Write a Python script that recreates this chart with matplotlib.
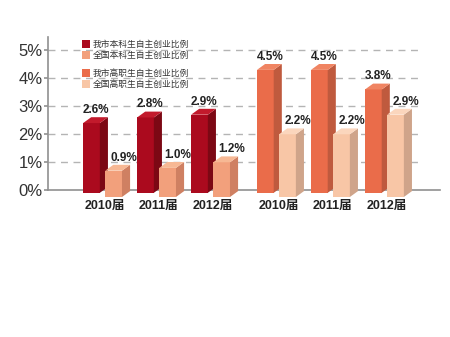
import numpy as np
import matplotlib.pyplot as plt
from matplotlib.patches import Polygon, Rectangle

plt.rcParams['font.family'] = ['Liberation Sans', 'Noto Sans CJK SC', 'DejaVu Sans']

years = ['2010届', '2011届', '2012届']
city_ug = [2.6, 2.8, 2.9]      # 我市本科生自主创业比例
nat_ug = [0.9, 1.0, 1.2]       # 全国本科生自主创业比例
city_voc = [4.5, 4.5, 3.8]     # 我市高职生自主创业比例
nat_voc = [2.2, 2.2, 2.9]      # 全国高职生自主创业比例
yticks = [0, 1, 2, 3, 4, 5]
legend_labels = ['我市本科生自主创业比例', '全国本科生自主创业比例',
                 '我市高职生自主创业比例', '全国高职生自主创业比例']

# colours: front, side, top
c_dark = ('#ab0a1e', '#7c0814', '#c21a2c')
c_salmon = ('#f2a07c', '#cf8062', '#f7b894')
c_orange = ('#ea6c4a', '#bf5a3e', '#f08462')
c_peach = ('#f8c6a6', '#cfa48a', '#fbd6bd')

W = 0.31     # bar width
DX = 0.15    # depth in x
DY = 0.21    # depth in y
PAIR = 0.41  # offset of the second bar in a pair


def bar3d(ax, xs, vals, colors, bottom, z, lab_off):
    front, side, top = colors
    ax.bar(xs, np.array(vals) - DY - bottom, width=W, bottom=bottom,
           align='edge', color=front, zorder=z, clip_on=False, linewidth=0)
    for x, v in zip(xs, vals):
        ax.add_patch(Polygon([(x + W, bottom), (x + W + DX, bottom + DY),
                              (x + W + DX, v), (x + W, v - DY)],
                             closed=True, color=side, zorder=z, clip_on=False, lw=0))
        ax.add_patch(Polygon([(x, v - DY), (x + W, v - DY), (x + W + DX, v), (x + DX, v)],
                             closed=True, color=top, zorder=z, clip_on=False, lw=0))
        ax.text(x + lab_off, v + 0.04, f'{v:.1f}%', ha='center', va='bottom',
                fontsize=8.5, fontweight='bold', color='#222222', zorder=z + 1)


fig = plt.figure(figsize=(4.5, 3.37), dpi=100)
ax = fig.add_axes([48 / 450, 1 - 190 / 337, 392 / 450, 153 / 337])

ug_x = np.arange(3) + 0.65
voc_x = np.arange(3) + 3.87

ax.hlines(yticks[1:], 0, 6.93, colors='#b4b4b4', linestyles=(0, (5, 4)), lw=1, zorder=1)

bar3d(ax, ug_x, city_ug, c_dark, -0.1, 3, 0.23)
bar3d(ax, ug_x + PAIR, nat_ug, c_salmon, -0.25, 4, 0.34)
bar3d(ax, voc_x, city_voc, c_orange, -0.1, 3, 0.24)
bar3d(ax, voc_x + PAIR, nat_voc, c_peach, -0.25, 4, 0.34)

ax.set_xlim(0, 392 / 54)
ax.set_ylim(0, 153 / 28)
ax.set_yticks(yticks)
ax.set_yticklabels([f'{t}%' for t in yticks], fontsize=12, color='#333333')
ax.tick_params(axis='y', length=3, width=1.2, color='#909090', pad=1)
ax.set_xticks(np.concatenate([ug_x, voc_x]) + 0.4)
ax.set_xticklabels(years * 2, fontsize=9, fontweight='bold', color='#222222')
ax.tick_params(axis='x', length=0, pad=7)
for s in ['top', 'right']:
    ax.spines[s].set_visible(False)
ax.spines['left'].set_color('#909090')
ax.spines['left'].set_linewidth(1.2)
ax.spines['bottom'].set_color('#909090')
ax.spines['bottom'].set_linewidth(1.2)
ax.patch.set_alpha(0)

# legend
leg_colors = [c_dark[0], c_salmon[0], c_orange[0], c_peach[0]]
leg_y = [0.954, 0.882, 0.765, 0.693]
for lab, col, y in zip(legend_labels, leg_colors, leg_y):
    ax.add_patch(Rectangle((0.087, y - 0.029), 0.021, 0.058, transform=ax.transAxes,
                           color=col, zorder=5, clip_on=False, lw=0))
    ax.text(0.115, y, lab, transform=ax.transAxes, fontsize=6.3, va='center',
            ha='left', color='#333333', family=['Noto Sans CJK SC', 'DejaVu Sans'])

fig.savefig('out.png', dpi=100)
